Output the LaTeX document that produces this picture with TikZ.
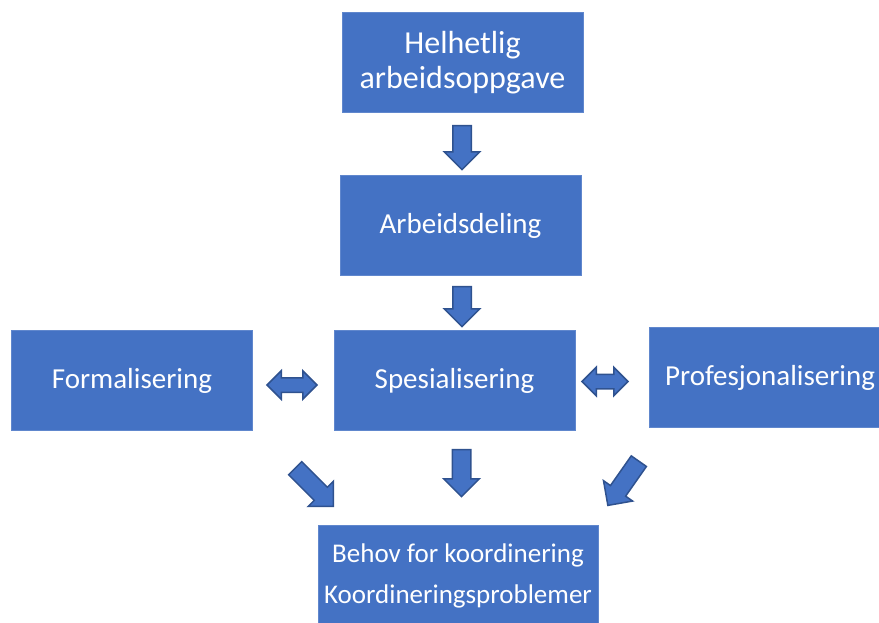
\documentclass[tikz,border=0pt]{standalone}
\usepackage{fontspec}
\setmainfont{Carlito}
\usetikzlibrary{shapes.arrows, positioning, calc}
\definecolor{boxblue}{HTML}{4472C4}
\definecolor{edgeblue}{HTML}{2F528F}
\tikzset{
    stepbox/.style = {fill=boxblue, draw=boxblue!85!white, line width=0.6pt,
        text=white, inner sep=0pt, align=center,
        minimum width=241pt, minimum height=100pt,
        font=\fontsize{29}{34}\selectfont},
    fatarrow/.style = {single arrow, fill=boxblue, draw=edgeblue, line width=1.5pt,
        inner xsep=0pt, inner ysep=8.5pt, single arrow head extend=8.5pt,
        single arrow head indent=0pt},
    twoarrow/.style = {double arrow, fill=boxblue, draw=edgeblue, line width=1.5pt,
        inner xsep=0pt, inner ysep=6.5pt, double arrow head extend=7pt,
        double arrow head indent=0pt},
}

\begin{document}
\begin{tikzpicture}[x=1pt, y=-1pt]
    \clip (0,0) rectangle (879,623);
    \node (helhet) [stepbox, font=\fontsize{32}{35}\selectfont] at (462.5,62.5)
        {Helhetlig\\arbeidsoppgave};
    \node (deling) [stepbox] at (460.5,225.5) {Arbeidsdeling};
    \node (spes) [stepbox] at (454.5,380.5) {Spesialisering};
    \node (formal) [stepbox, left=81pt of spes] {Formalisering};
    \node (prof) [stepbox, right=74pt of spes, yshift=3pt] {Profesjonalisering};
    \node (behov) [stepbox, minimum width=280pt, minimum height=102pt,
        font=\fontsize{27}{41}\selectfont] at (458,576)
        {Behov for koordinering\\Koordineringsproblemer};
    % block arrows
    \node (pil1) [fatarrow, rotate=-90, minimum height=44pt] at (462,143) {};
    \node (pil2) [fatarrow, rotate=-90, minimum height=40pt] at (462,302) {};
    \node (pil3) [fatarrow, rotate=-90, minimum height=47pt] at (461.5,468.5) {};
    \node (pil4) [fatarrow, rotate=-45, minimum height=54pt] at (311,484) {};
    \node (pil5) [fatarrow, rotate=-125, minimum height=54pt] at (626,479.5) {};
    \node (dobb1) [twoarrow, minimum height=50pt] at (292,385) {};
    \node (dobb2) [twoarrow, minimum height=46pt] at (605,381.5) {};
\end{tikzpicture}
\end{document}
